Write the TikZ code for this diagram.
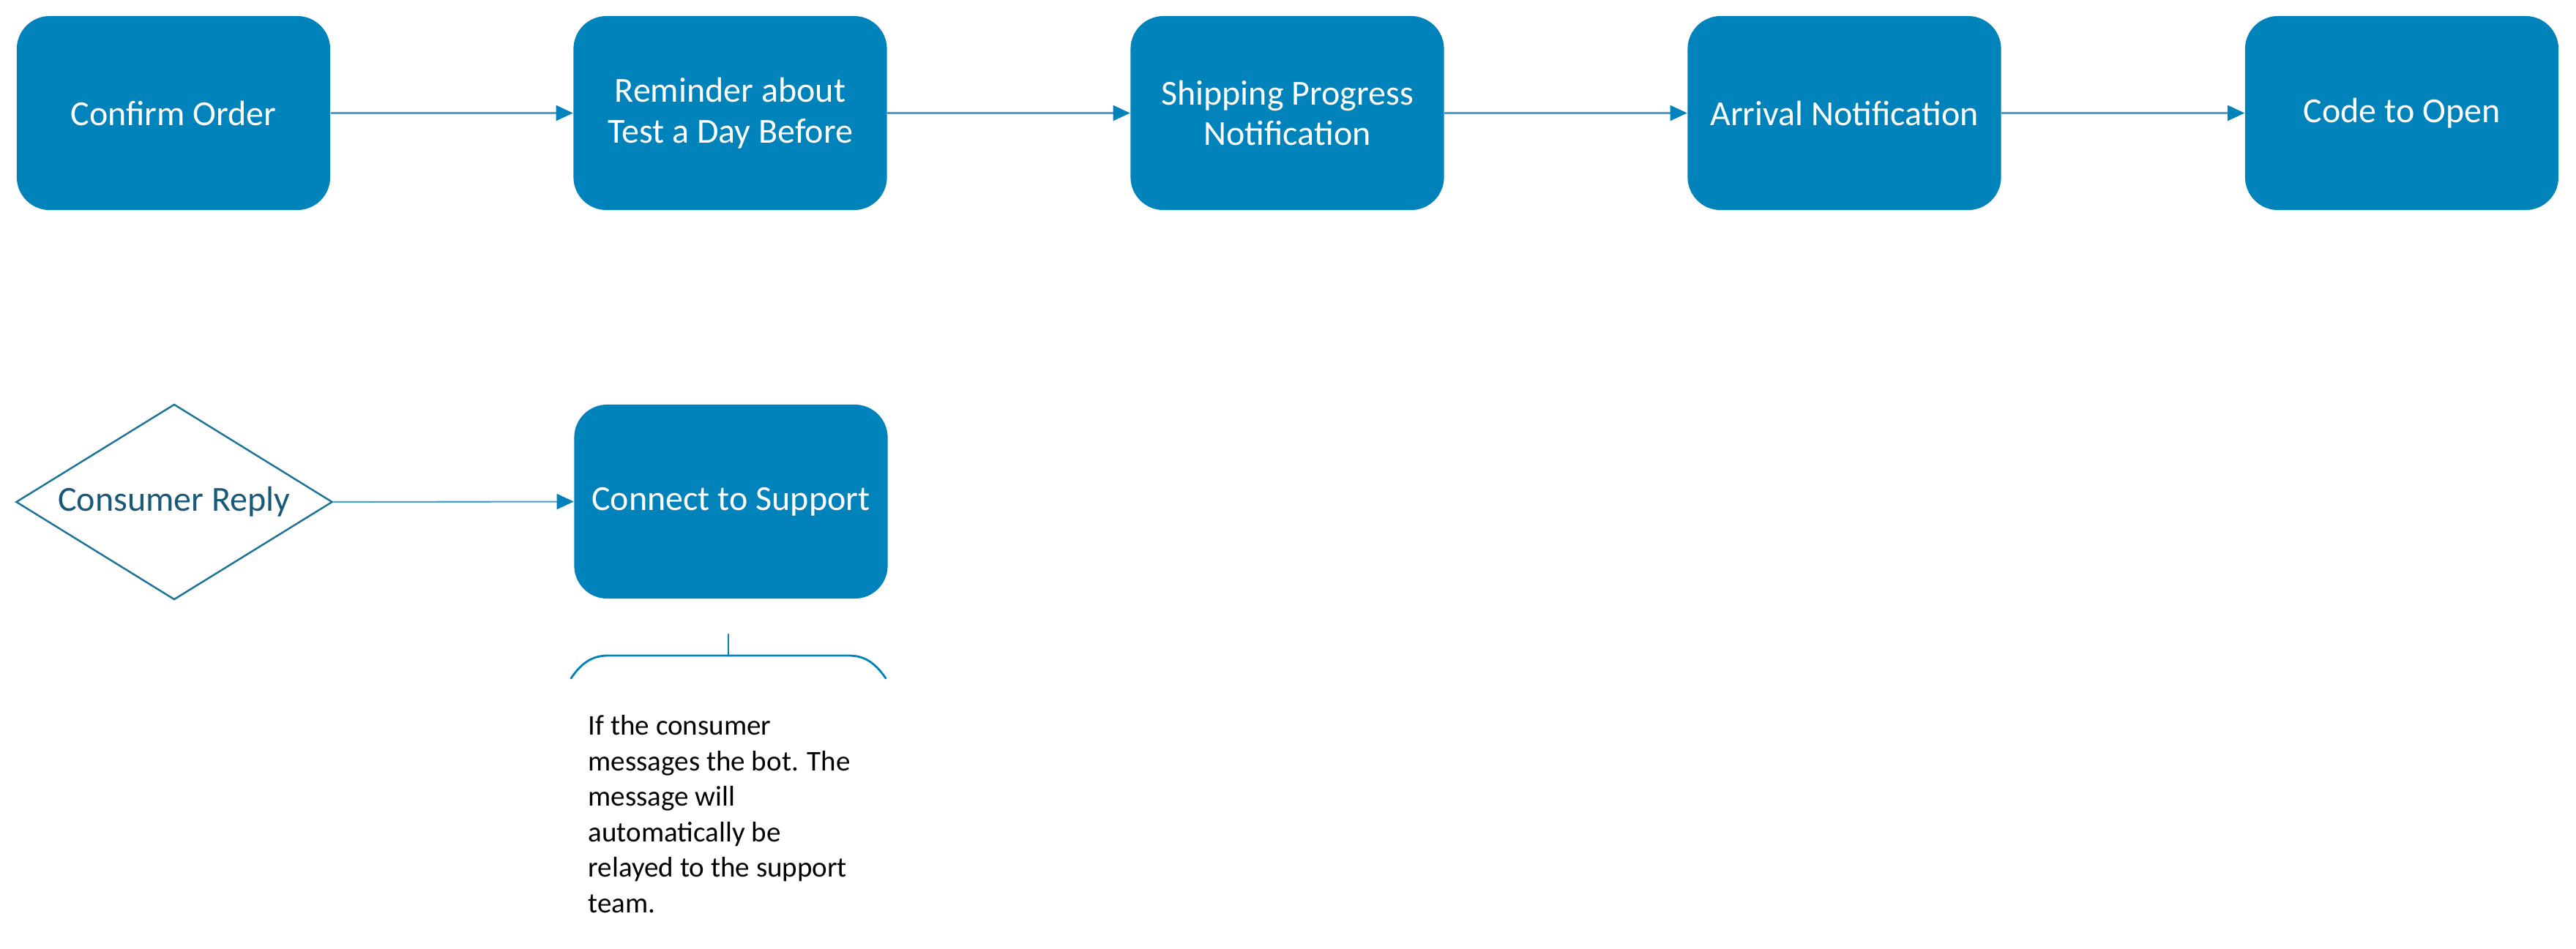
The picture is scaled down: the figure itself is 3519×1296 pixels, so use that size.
\documentclass[tikz,border=0pt]{standalone}
\usepackage{fontspec}
\setmainfont{Carlito}
\usetikzlibrary{shapes.geometric,arrows.meta}
\definecolor{boxblue}{RGB}{0,131,186}
\definecolor{lineblue}{RGB}{70,160,210}
\definecolor{darkteal}{RGB}{24,88,120}
\definecolor{diastroke}{RGB}{30,115,152}
\tikzset{
  x=0.01cm, y=-0.01cm,
  stepbox/.style={draw=none, fill=boxblue, rounded corners=0.45cm,
    minimum width=4.28cm, minimum height=2.65cm, inner sep=0pt,
    text=white, align=center,
    font=\fontsize{13.66pt}{15.9pt}\selectfont},
  decision/.style={diamond, shape aspect=1.62, draw=diastroke, line width=0.7pt, fill=white,
    minimum width=4.32cm, minimum height=2.67cm, inner sep=0pt,
    text=darkteal, font=\fontsize{13.66pt}{15.9pt}\selectfont},
  flow/.style={draw=lineblue, line width=0.6pt,
    -{Triangle[length=0.23cm, width=0.21cm, color=boxblue, fill=boxblue]}},
  bracket/.style={draw=boxblue, line width=0.8pt, line cap=round},
  note/.style={anchor=north west, inner sep=0pt, align=left, text=black,
    font=\fontsize{11.1pt}{13.8pt}\selectfont}
}
\begin{document}
\begin{tikzpicture}
\useasboundingbox (0,0) rectangle (3519,1296);
\node[stepbox] (confirm) at (237,154.5) {Confirm Order};
\node[stepbox] (remind) at (997.5,154.5) {Reminder about\\Test a Day Before};
\node[stepbox] (ship) at (1758.5,154.5) {Shipping Progress\\Notification};
\node[stepbox] (arrival) at (2519.5,154.5) {Arrival Notification};
\node[stepbox] (code) at (3281,154.5) {Code to Open};
\node[decision] (reply) at (238,686) {Consumer Reply};
\node[stepbox] (support) at (998.5,685.5) {Connect to Support};
\draw[flow] (confirm) -- (remind);
\draw[flow] (remind) -- (ship);
\draw[flow] (ship) -- (arrival);
\draw[flow] (arrival) -- (code);
\draw[flow] (reply.east) -- (support.west);
\coordinate (bl) at (780,927);
\coordinate (br) at (1210,927);
\coordinate (btop) at (995,867);
\coordinate (bmid) at (995,896);
\draw[bracket] (bl) .. controls (795,905) and (810,896) .. (830,896) -- (1160,896) .. controls (1180,896) and (1195,905) .. (br);
\draw[bracket] (btop) -- (bmid);
\node[note] (notetext) at (803,977) {If the consumer\\messages the bot. The\\message will\\automatically be\\relayed to the support\\team.};
\end{tikzpicture}
\end{document}
